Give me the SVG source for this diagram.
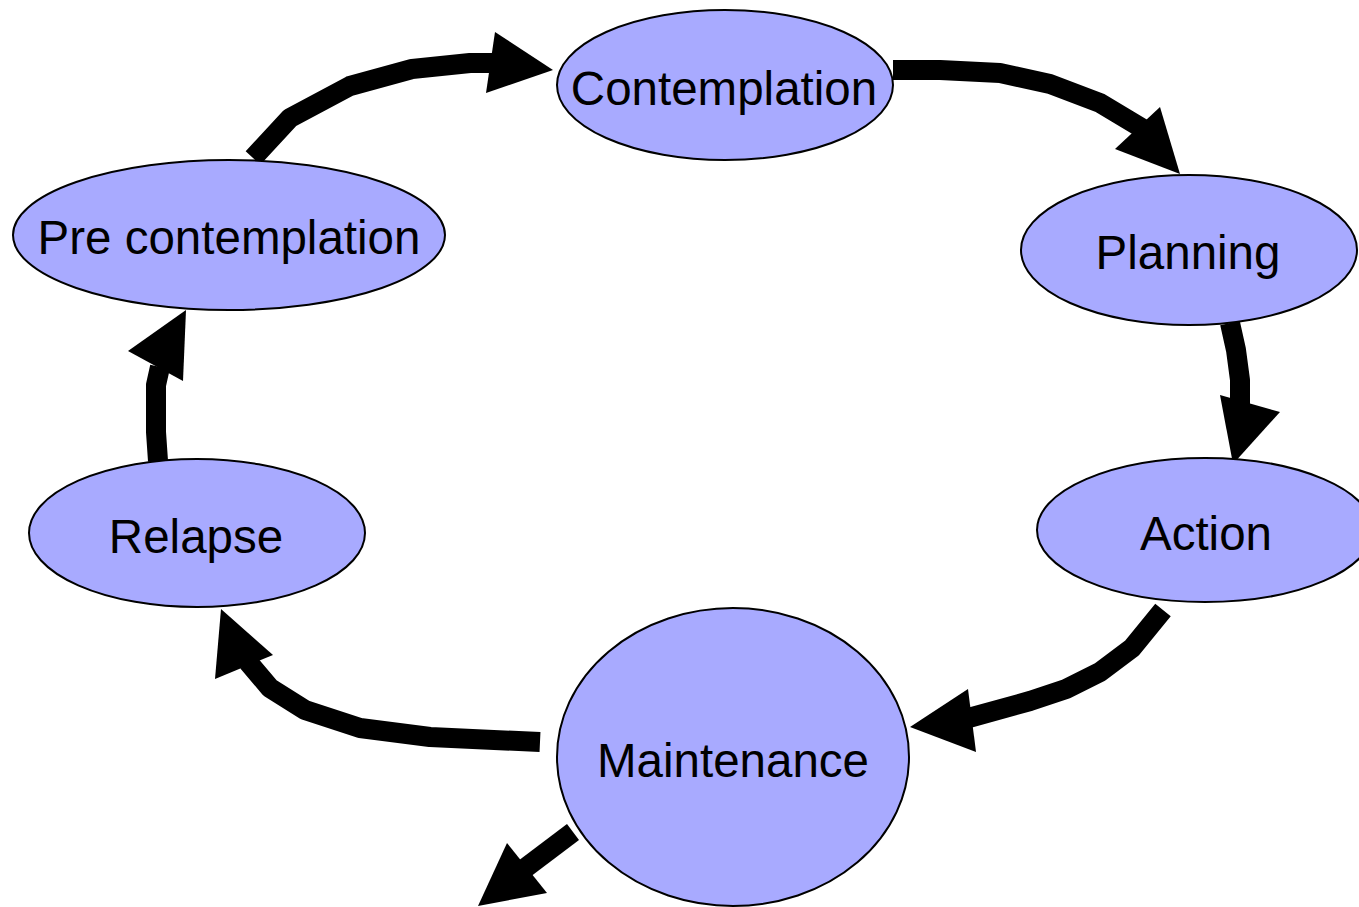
<svg xmlns="http://www.w3.org/2000/svg" width="1359" height="907" viewBox="0 0 1359 907">
<style>
.node{fill:#a8aaff;stroke:#000;stroke-width:2}
.lbl{font-family:"Liberation Sans",Arial,sans-serif;font-size:47.5px;fill:#000;text-anchor:middle}
.shaft{fill:none;stroke:#000;stroke-width:20;stroke-linejoin:round}
.head{fill:#000}
</style>
<rect width="1359" height="907" fill="#fff"/>
<g id="connectors">
<path class="shaft" d="M253,158 L290,118 L350,86 L412,69 L470,63 L497,63"/>
<polygon class="head" points="495,32 553,70 486,93"/>
<path class="shaft" d="M893,70 L940,70 L1000,73 L1050,84 L1100,103 L1145,130"/>
<polygon class="head" points="1160,107 1180,174 1115,149"/>
<path class="shaft" d="M1230,323 L1236,350 L1240,380 L1240,410"/>
<polygon class="head" points="1220,395 1280,412 1233,464"/>
<path class="shaft" d="M1163,610 L1132,648 L1100,672 L1066,689 L1030,701 L965,719"/>
<polygon class="head" points="968,689 910,727 976,752"/>
<path class="shaft" d="M540,742 L430,737 L360,728 L305,710 L270,688 L248,662"/>
<polygon class="head" points="273,655 221,609 215,679"/>
<path class="shaft" d="M158,461 L156,432 L156,385 L160,367"/>
<polygon class="head" points="128,351 186,310 183,381"/>
<path class="shaft" d="M573,832 L520,872"/>
<polygon class="head" points="507,843 478,906 547,893"/>
</g>
<g id="contemplation">
<ellipse class="node" cx="725" cy="85" rx="168" ry="75"/>
<text class="lbl" x="724" y="105">Contemplation</text>
</g>
<g id="precontemplation">
<ellipse class="node" cx="229" cy="235" rx="216" ry="75"/>
<text class="lbl" x="229" y="254">Pre contemplation</text>
</g>
<g id="planning">
<ellipse class="node" cx="1189" cy="250" rx="168" ry="75"/>
<text class="lbl" x="1188" y="269">Planning</text>
</g>
<g id="action">
<ellipse class="node" cx="1205" cy="530" rx="168" ry="72"/>
<text class="lbl" x="1206" y="550">Action</text>
</g>
<g id="relapse">
<ellipse class="node" cx="197" cy="533" rx="168" ry="74"/>
<text class="lbl" x="196" y="553">Relapse</text>
</g>
<g id="maintenance">
<ellipse class="node" cx="733" cy="757" rx="176" ry="149"/>
<text class="lbl" x="733" y="777">Maintenance</text>
</g>
</svg>
